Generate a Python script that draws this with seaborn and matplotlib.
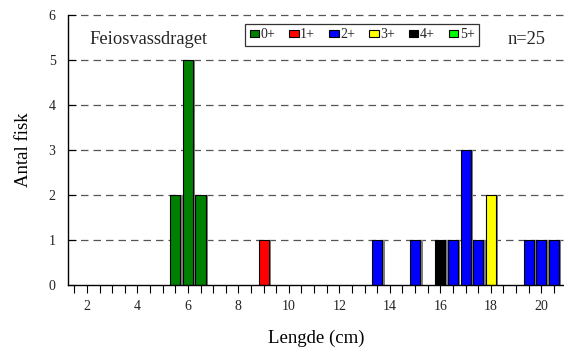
import matplotlib
matplotlib.use("Agg")
import matplotlib.pyplot as plt
import matplotlib.patheffects as pe
from matplotlib.patches import Patch
import seaborn as sns
import pandas as pd

# ---- data ----
lengths = [5.5, 6.0, 6.5, 9.0, 13.5, 15.0, 16.0, 16.5, 17.0, 17.5, 18.0, 19.5, 20.0, 20.5]
counts = [2, 5, 2, 1, 1, 1, 1, 1, 3, 1, 2, 1, 1, 1]
ages = ["0+", "0+", "0+", "1+", "2+", "2+", "4+", "2+", "2+", "2+", "3+", "2+", "2+", "2+"]
age_classes = ["0+", "1+", "2+", "3+", "4+", "5+"]
age_colors = ["#008000", "#ff0000", "#0000ff", "#ffff00", "#000000", "#00ff00"]
y_ticks = [0, 1, 2, 3, 4, 5, 6]
x_label_ticks = [2, 4, 6, 8, 10, 12, 14, 16, 18, 20]
title_text = "Feiosvassdraget"
n_text = "n=25"
xlabel = "Lengde (cm)"
ylabel = "Antal fisk"

df = pd.DataFrame({"Lengde": lengths, "Antal": counts, "Alder": ages})

sns.set_theme(style="white")
plt.rcParams["font.family"] = ["Liberation Serif", "DejaVu Serif"]

fig = plt.figure(figsize=(5.64, 3.47), dpi=100)
ax = fig.add_axes([0.1206, 0.1787, 0.8794, 0.7781])

palette = dict(zip(age_classes, age_colors))
sns.barplot(data=df, x="Lengde", y="Antal", hue="Alder", hue_order=age_classes,
            palette=palette, native_scale=True, dodge=False, width=0.8,
            edgecolor="black", linewidth=0.8, saturation=1, legend=False, ax=ax)

for p in ax.patches:
    p.set_path_effects([pe.SimplePatchShadow(offset=(1.8, -0.3), shadow_rgbFace="#808080", alpha=1.0),
                        pe.Normal()])

ax.set_xlim(1.25, 20.9)
ax.set_ylim(0, 6)

# grid
ax.set_axisbelow(True)
for yv in y_ticks[1:]:
    ax.axhline(yv, color="#555555", linestyle=(0, (6, 4)), linewidth=0.9, zorder=0, clip_on=False)

ax.set_yticks(y_ticks)
ax.set_yticklabels([str(v) for v in y_ticks])
minor = [1.5 + 0.5 * i for i in range(39)]
ax.set_xticks(minor, minor=True)
ax.set_xticks(x_label_ticks)
ax.set_xticklabels([str(v) for v in x_label_ticks])

ax.tick_params(axis="y", direction="in", length=6, width=0.8, color="black",
               labelsize=10, pad=9, left=True)
ax.tick_params(axis="x", which="both", direction="out", length=6, width=0.8, color="black",
               labelsize=10, pad=5, bottom=True)

for s in ["top", "right"]:
    ax.spines[s].set_visible(False)
for s in ["left", "bottom"]:
    ax.spines[s].set_color("black")
    ax.spines[s].set_linewidth(1.0)

ax.set_xlabel(xlabel, fontsize=13.5, labelpad=12, color="black")
ax.set_ylabel(ylabel, fontsize=13.5, labelpad=12, color="black")
for t in ax.get_xticklabels() + ax.get_yticklabels():
    t.set_color("#222222")

ax.text(0.044, 0.91, title_text, transform=ax.transAxes, fontsize=13.3, va="center", ha="left")
ax.text(0.962, 0.91, n_text, transform=ax.transAxes, fontsize=13.3, va="center", ha="right")

handles = [Patch(facecolor=c, edgecolor="black", linewidth=0.8, label=a)
           for a, c in zip(age_classes, age_colors)]
leg = ax.legend(handles=handles, ncol=6, loc="center", bbox_to_anchor=(0.593, 0.926),
                fontsize=10, frameon=True, fancybox=False, edgecolor="black",
                handlelength=0.65, handleheight=0.45, handletextpad=0.1, columnspacing=1.05,
                borderpad=0.3, borderaxespad=0)
leg.get_frame().set_linewidth(0.9)

fig.savefig("out.png", dpi=100)
